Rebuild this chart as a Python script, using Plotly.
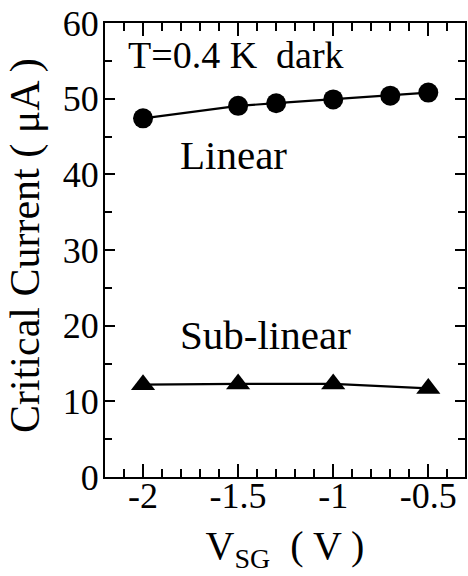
import plotly.graph_objects as go

# Data
lin_x = [-2.0, -1.5, -1.3, -1.0, -0.7, -0.5]
lin_y = [47.4, 49.05, 49.4, 49.9, 50.4, 50.8]
sub_x = [-2.0, -1.5, -1.0, -0.5]
sub_y = [12.2, 12.3, 12.3, 11.7]

x_ticks = [-2, -1.5, -1, -0.5]
x_ticklabels = ["-2", "-1.5", "-1", "-0.5"]
y_ticks = [0, 10, 20, 30, 40, 50, 60]

FONT = "'Liberation Serif', 'Times New Roman', Times, serif"

fig = go.Figure()
fig.add_trace(go.Scatter(x=lin_x, y=lin_y, mode="lines+markers",
                         line=dict(color="black", width=2.2),
                         marker=dict(symbol="circle", size=20, color="black"),
                         showlegend=False))
fig.add_trace(go.Scatter(x=sub_x, y=sub_y, mode="lines+markers",
                         line=dict(color="black", width=2.2),
                         marker=dict(symbol="triangle-up", size=21, color="black"),
                         showlegend=False))

fig.add_annotation(x=-2.09, y=55.8, text="T=0.4 K\u00a0\u00a0dark", showarrow=False,
                   xanchor="left", yanchor="middle", font=dict(family=FONT, size=38, color="black"))
fig.add_annotation(x=-1.818, y=42.5, text="Linear", showarrow=False,
                   xanchor="left", yanchor="middle", font=dict(family=FONT, size=41, color="black"))
fig.add_annotation(x=-1.818, y=18.8, text="Sub-linear", showarrow=False,
                   xanchor="left", yanchor="middle", font=dict(family=FONT, size=41, color="black"))

# y-axis title placed as a rotated annotation for exact placement
fig.add_annotation(xref="paper", yref="paper", x=0, y=0.5, xshift=-80, yshift=4,
                   text="Critical Current ( μA )", textangle=-90, showarrow=False,
                   xanchor="center", yanchor="middle",
                   font=dict(family=FONT, size=42, color="black"))

fig.update_layout(
    width=468, height=576,
    margin=dict(l=105, r=1, t=23, b=99),
    plot_bgcolor="white", paper_bgcolor="white",
    font=dict(family=FONT, color="black"),
    xaxis=dict(
        range=[-2.2, -0.307],
        tickvals=x_ticks, ticktext=x_ticklabels,
        ticks="inside", ticklen=13, tickwidth=2, tickcolor="black",
        minor=dict(dtick=0.1, tick0=0, ticks="inside", ticklen=8, tickwidth=2, tickcolor="black"),
        showline=True, linewidth=2, linecolor="black", mirror="ticks",
        showgrid=False, zeroline=False,
        tickfont=dict(family=FONT, size=36, color="black"),
        ticklabelstandoff=-14,
        title=dict(text="V<sub>SG</sub>\u00a0\u00a0( V )", font=dict(family=FONT, size=40, color="black"), standoff=16),
    ),
    yaxis=dict(
        range=[0, 60],
        tickvals=y_ticks,
        ticks="inside", ticklen=10, tickwidth=2, tickcolor="black",
        minor=dict(dtick=5, tick0=0, ticks="inside", ticklen=7, tickwidth=2, tickcolor="black"),
        showline=True, linewidth=2, linecolor="black", mirror="ticks",
        showgrid=False, zeroline=False,
        tickfont=dict(family=FONT, size=36, color="black"),
        ticklabelstandoff=-3,
    ),
)

fig.write_html("out.html", config={"displayModeBar": False},
               post_script="document.body.style.margin='0';document.body.style.padding='0';")
